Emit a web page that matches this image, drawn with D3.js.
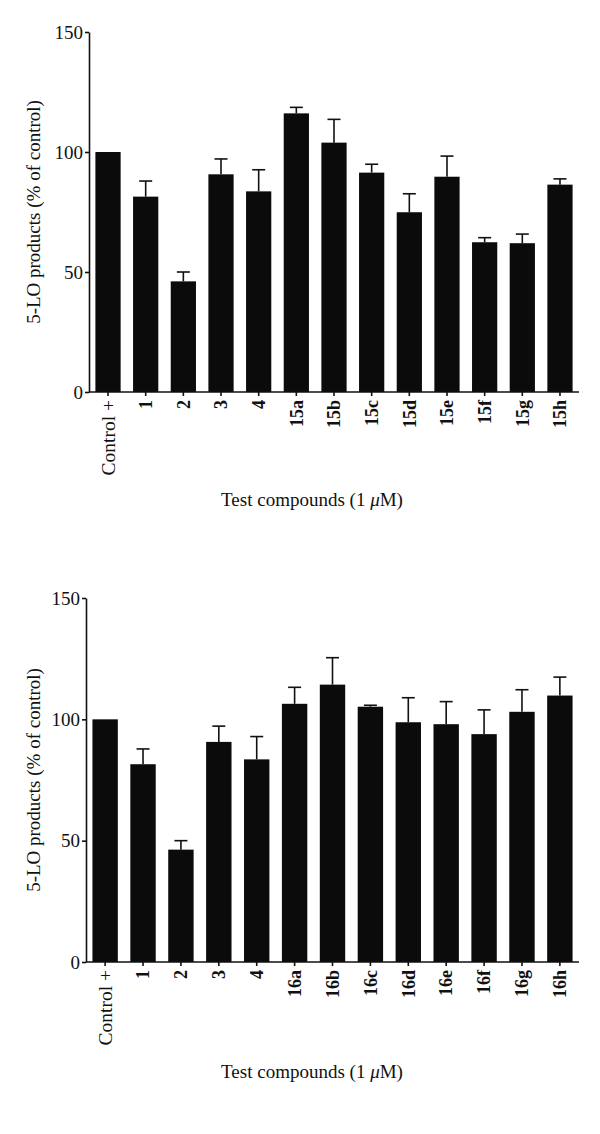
<!DOCTYPE html>
<html>
<head>
<meta charset="utf-8">
<script src="https://cdn.jsdelivr.net/npm/d3@7"></script>
<style>
  body { margin: 0; background: #fff; }
  svg { display: block; }
  text { font-family: "Liberation Serif", "Times New Roman", serif; fill: #111; }
</style>
</head>
<body>
<div id="chart"></div>
<script>
// values (% of control), mean and upper error
var labelsTop = ["Control +", "1", "2", "3", "4", "15a", "15b", "15c", "15d", "15e", "15f", "15g", "15h"]
var valuesTop = [100, 81.4, 46.1, 90.7, 83.6, 116.1, 103.9, 91.4, 74.9, 89.7, 62.4, 62.0, 86.4]
var errorsTop = [0, 6.5, 3.9, 6.4, 9.0, 2.5, 9.7, 3.5, 7.7, 8.6, 1.9, 3.8, 2.4]

var labelsBottom = ["Control +", "1", "2", "3", "4", "16a", "16b", "16c", "16d", "16e", "16f", "16g", "16h"]
var valuesBottom = [100, 81.5, 46.3, 90.7, 83.5, 106.4, 114.3, 105.2, 98.8, 98.0, 93.9, 103.1, 109.8]
var errorsBottom = [0, 6.3, 3.7, 6.5, 9.4, 6.8, 11.1, 0.6, 10.1, 9.3, 10.0, 9.1, 7.6]

var yTicks = [0, 50, 100, 150]
var yLabel = "5-LO products (% of control)"

var svg = d3.select("#chart").append("svg")
  .attr("width", 600)
  .attr("height", 1134)

drawPanel({ labels: labelsTop, values: valuesTop, errors: errorsTop,
  x0: 89, x1: 579, yTop: 32, yBottom: 392, titleY: 506 })
drawPanel({ labels: labelsBottom, values: valuesBottom, errors: errorsBottom,
  x0: 86, x1: 579, yTop: 598, yBottom: 962, titleY: 1078 })

function drawPanel(p) {
  var g = svg.append("g")

  var x = d3.scaleBand()
    .domain(p.labels)
    .range([p.x0, p.x1])
    .paddingInner(0.33)
    .paddingOuter(0.17)

  var y = d3.scaleLinear()
    .domain([0, 150])
    .range([p.yBottom, p.yTop])

  var data = p.labels.map(function(d, i) {
    return { name: d, value: p.values[i], err: p.errors[i] }
  })

  // bars
  g.append("g").selectAll("rect")
    .data(data)
    .enter()
    .append("rect")
    .attr("x", function(d) { return x(d.name) })
    .attr("width", x.bandwidth())
    .attr("y", function(d) { return y(d.value) })
    .attr("height", function(d) { return y(0) - y(d.value) })
    .attr("fill", "#0a0b0a")

  // error bars, upper only
  var eb = g.append("g").selectAll("g")
    .data(data.filter(function(d) { return d.err > 0 }))
    .enter()
    .append("g")
    .attr("stroke", "#111")
    .attr("stroke-width", 1.6)

  eb.append("line")
    .attr("x1", function(d) { return x(d.name) + x.bandwidth() / 2 })
    .attr("x2", function(d) { return x(d.name) + x.bandwidth() / 2 })
    .attr("y1", function(d) { return y(d.value) })
    .attr("y2", function(d) { return y(d.value + d.err) })

  eb.append("line")
    .attr("x1", function(d) { return x(d.name) + x.bandwidth() / 2 - 6.5 })
    .attr("x2", function(d) { return x(d.name) + x.bandwidth() / 2 + 6.5 })
    .attr("y1", function(d) { return y(d.value + d.err) })
    .attr("y2", function(d) { return y(d.value + d.err) })

  // y axis
  var ya = g.append("g")
    .attr("transform", "translate(" + p.x0 + ",0)")
    .call(d3.axisLeft(y).tickValues(yTicks).tickSize(4).tickSizeOuter(0).tickPadding(2))
  ya.selectAll("path, line").attr("stroke", "#111").attr("stroke-width", 1.6)
  ya.selectAll("text")
    .style("font-size", "19px")
    .attr("fill", "#111")

  // x axis
  var xa = g.append("g")
    .attr("transform", "translate(0," + p.yBottom + ")")
    .call(d3.axisBottom(x).tickSize(4).tickSizeOuter(0))
  xa.select(".domain").attr("d", "M" + p.x0 + ",0H" + p.x1)
  xa.selectAll("path, line").attr("stroke", "#111").attr("stroke-width", 1.6)
  xa.selectAll("text")
    .attr("transform", "rotate(-90)")
    .attr("x", -8)
    .attr("y", 0)
    .attr("dy", "0.35em")
    .attr("text-anchor", "end")
    .attr("fill", "#111")
    .style("font-size", function(d) { return d === "Control +" ? "19.5px" : "18px" })
    .style("font-weight", function(d) { return d === "Control +" ? "normal" : "bold" })

  // axis titles
  g.append("text")
    .attr("transform", "translate(33," + (p.yTop + p.yBottom) / 2 + ") rotate(-90)")
    .attr("text-anchor", "middle")
    .attr("dy", "0.35em")
    .style("font-size", "19px")
    .text(yLabel)

  var t = g.append("text")
    .attr("x", 312)
    .attr("y", p.titleY)
    .attr("text-anchor", "middle")
    .style("font-size", "19px")
  t.append("tspan").text("Test compounds (1 ")
  t.append("tspan").style("font-style", "italic").text("\u03bc")
  t.append("tspan").text("M)")
}
</script>
</body>
</html>
